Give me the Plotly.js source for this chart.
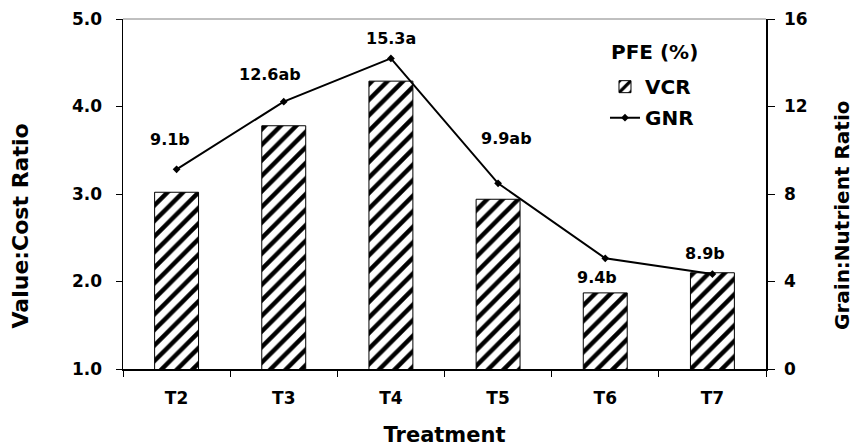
<!DOCTYPE html>
<html><head><meta charset="utf-8">
<script src="https://cdn.plot.ly/plotly-3.0.1.min.js"></script>
<style>html,body{margin:0;padding:0;background:#fff}#chart{width:858px;height:447px}</style>
</head><body><div id="chart"></div>
<script>
// ---- data ----
const treatments = ['T2', 'T3', 'T4', 'T5', 'T6', 'T7'];
const vcr = [3.02, 3.78, 4.29, 2.94, 1.87, 2.10];      // Value:Cost Ratio (left axis)
const gnr = [9.13, 12.22, 14.2, 8.49, 5.06, 4.34];     // Grain:Nutrient Ratio (right axis)
const pfeLabels = ['9.1b', '12.6ab', '15.3a', '9.9ab', '9.4b', '8.9b'];
const leftTicks = [1, 2, 3, 4, 5];
const rightTicks = [0, 4, 8, 12, 16];

// ---- styling ----
const F = 'DejaVu Sans, Arial, sans-serif';
const bold = (size) => ({family: F, size: size, weight: 'bold', color: '#000'});
const labelShift = [[-7, 30], [-14, 27], [0, 20], [8, 45], [-8, -19], [-7, 21]];

const barTrace = {
  type: 'bar', x: treatments, y: vcr, name: 'VCR', legendgroup: 'a',
  xaxis: 'x', yaxis: 'y',
  marker: {color: '#fff', line: {color: '#000', width: 1},
    pattern: {shape: '/', fgcolor: '#000', bgcolor: '#fff', size: 11, solidity: 0.4}},
  hoverinfo: 'skip'
};
const lineTrace = {
  type: 'scatter', mode: 'lines+markers', x: treatments, y: gnr, name: 'GNR', legendgroup: 'b',
  xaxis: 'x', yaxis: 'y2',
  line: {color: '#000', width: 2},
  marker: {symbol: 'diamond', size: 6, color: '#000'},
  hoverinfo: 'skip'
};

const annotations = pfeLabels.map((t, i) => ({
  x: treatments[i], y: gnr[i], xref: 'x', yref: 'y2', text: t, showarrow: false,
  xshift: labelShift[i][0], yshift: labelShift[i][1], font: bold(16)
}));
annotations.push({
  text: 'PFE (%)', xref: 'paper', yref: 'paper', x: 0.7558, y: 0.906,
  xanchor: 'left', yanchor: 'middle', showarrow: false, font: bold(20)
});
annotations.push({
  text: 'Value:Cost Ratio', xref: 'paper', yref: 'paper', x: -0.1594, y: 0.4086,
  xanchor: 'center', yanchor: 'middle', textangle: -90, showarrow: false, font: bold(22)
});
annotations.push({
  text: 'Grain:Nutrient Ratio', xref: 'paper', yref: 'paper', x: 1.1182, y: 0.44,
  xanchor: 'center', yanchor: 'middle', textangle: -90, showarrow: false, font: bold(20)
});

const layout = {
  width: 858, height: 447,
  margin: {l: 123, r: 92, t: 19, b: 78, pad: 0},
  paper_bgcolor: '#fff', plot_bgcolor: '#fff',
  bargap: 0.59,
  showlegend: true,
  legend: {
    x: 0.7496, xanchor: 'left', y: 0.8624, yanchor: 'top',
    traceorder: 'grouped', tracegroupgap: 2,
    bgcolor: 'rgba(0,0,0,0)', font: bold(20), itemwidth: 30
  },
  xaxis: {
    type: 'category', range: [-0.5, 5.5], tickson: 'boundaries',
    ticks: 'outside', ticklen: 6, tickcolor: '#000', tickwidth: 1,
    showline: true, linecolor: '#000', linewidth: 2,
    showgrid: false, zeroline: false,
    tickfont: bold(17), ticklabelstandoff: 13,
    title: {text: 'Treatment', font: bold(21), standoff: 23}
  },
  xaxis2: {
    overlaying: 'x', anchor: 'y', side: 'bottom', type: 'linear', range: [-0.5, 5.5],
    tickmode: 'linear', tick0: -0.5, dtick: 1,
    ticks: 'inside', ticklen: 6, tickcolor: '#000', tickwidth: 1,
    showticklabels: false, showline: false, showgrid: false, zeroline: false
  },
  yaxis: {
    range: [1, 5], tickmode: 'array', tickvals: leftTicks,
    ticktext: leftTicks.map(v => v.toFixed(1)),
    ticks: 'outside', ticklen: 6, tickcolor: '#000', tickwidth: 1,
    showline: true, linecolor: '#000', linewidth: 1.5,
    showgrid: false, zeroline: false,
    tickfont: bold(17), ticklabelstandoff: 10
  },
  yaxis3: {
    overlaying: 'y', side: 'left', anchor: 'x', range: [1, 5],
    tickmode: 'array', tickvals: leftTicks,
    ticks: 'inside', ticklen: 8, tickcolor: '#000', tickwidth: 1,
    showticklabels: false, showline: false, showgrid: false, zeroline: false
  },
  yaxis2: {
    overlaying: 'y', side: 'right', anchor: 'x', range: [0, 16],
    tickmode: 'array', tickvals: rightTicks,
    ticks: 'outside', ticklen: 7, tickcolor: '#000', tickwidth: 1,
    showline: true, linecolor: '#000', linewidth: 1.5,
    showgrid: false, zeroline: false,
    tickfont: bold(17), ticklabelstandoff: 6
  },
  yaxis4: {
    overlaying: 'y', side: 'right', anchor: 'x', range: [0, 16],
    tickmode: 'array', tickvals: rightTicks,
    ticks: 'inside', ticklen: 8, tickcolor: '#000', tickwidth: 1,
    showticklabels: false, showline: false, showgrid: false, zeroline: false
  },
  shapes: [{type: 'line', xref: 'paper', yref: 'paper', x0: 0, x1: 1, y0: 1, y1: 1,
    line: {color: '#808080', width: 1}}],
  annotations: annotations
};

Plotly.newPlot('chart', [barTrace, lineTrace], layout, {displayModeBar: false, staticPlot: true});
</script></body></html>
